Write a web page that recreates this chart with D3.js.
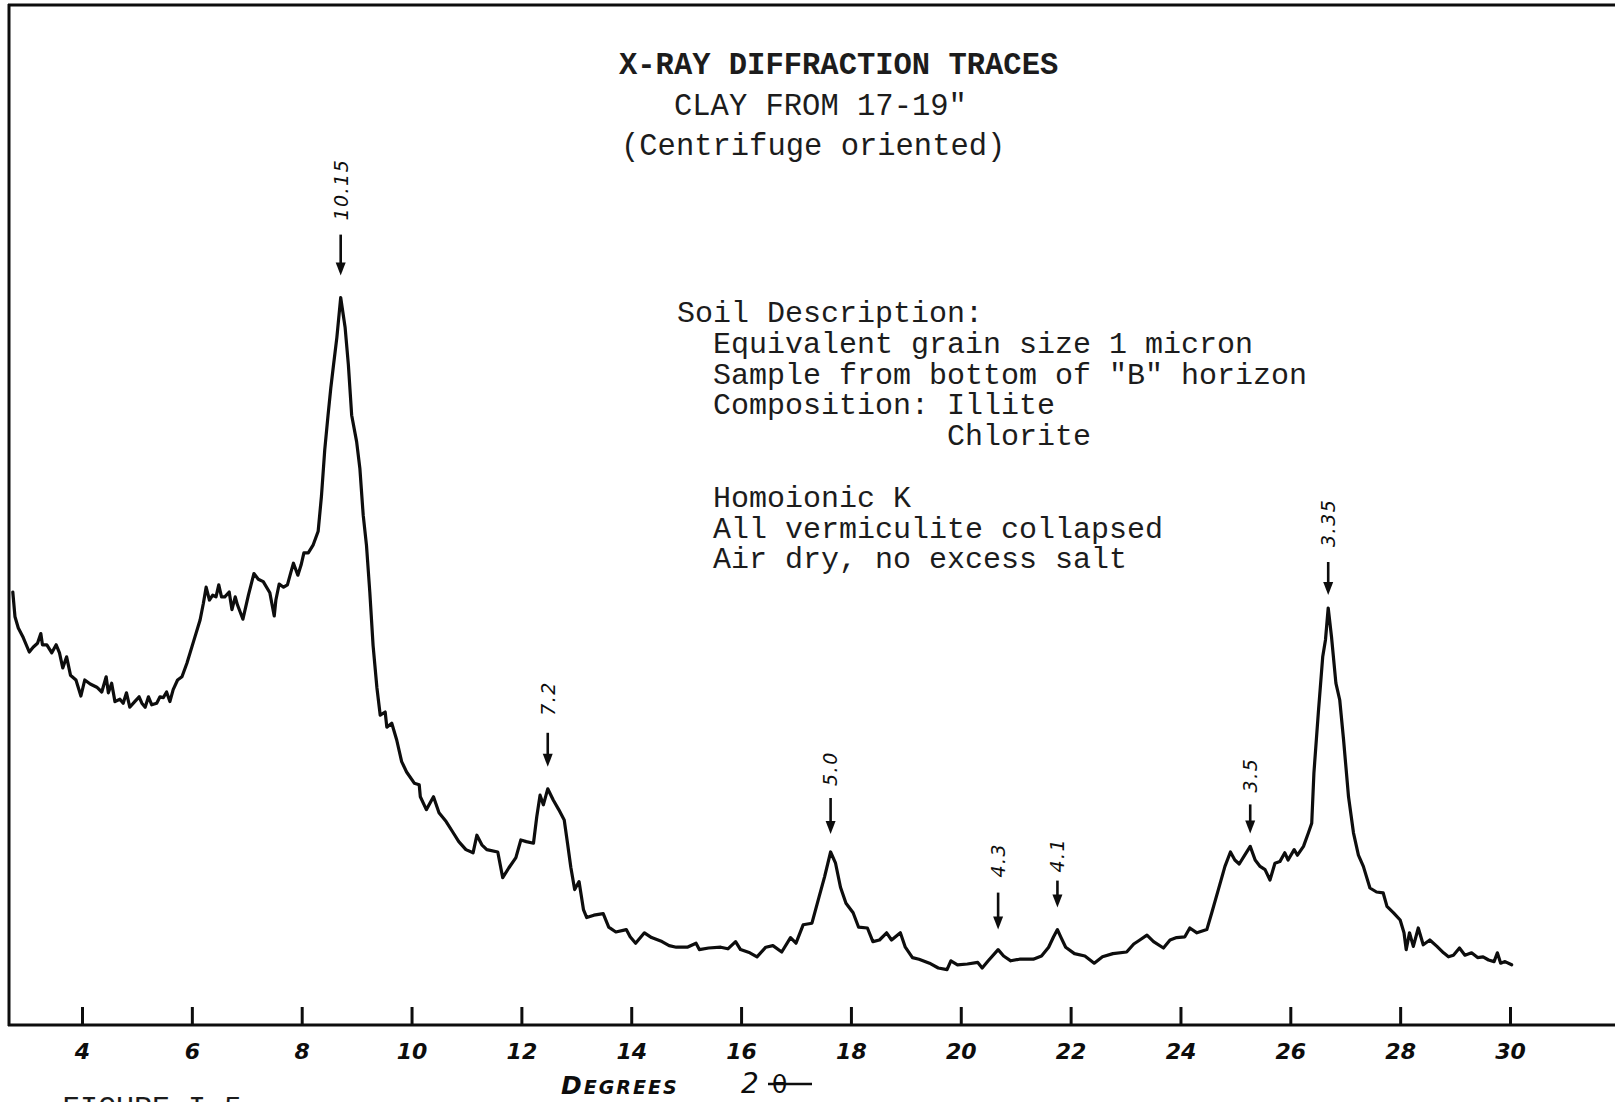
<!DOCTYPE html>
<html>
<head>
<meta charset="utf-8">
<script src="https://cdn.jsdelivr.net/npm/d3@7"></script>
<style>
  html, body { margin: 0; padding: 0; background: #fff; }
  svg { display: block; }
</style>
</head>
<body>
<svg id="chart" width="1615" height="1102"></svg>
<script>
// Diffractometer trace: angle 2θ (degrees) of each recorded point
const twoTheta = [
  2.74, 2.78, 2.84, 2.93, 3.04, 3.11, 3.19, 3.25, 3.28, 3.36, 3.45, 3.53, 3.59, 3.65, 3.72, 3.79,
  3.89, 3.98, 4.05, 4.15, 4.27, 4.36, 4.44, 4.48, 4.54, 4.60, 4.69, 4.75, 4.81, 4.87, 4.96, 5.04,
  5.09, 5.15, 5.21, 5.27, 5.36, 5.42, 5.48, 5.54, 5.60, 5.66, 5.74, 5.82, 5.91, 6.03, 6.15, 6.21,
  6.26, 6.32, 6.38, 6.44, 6.49, 6.54, 6.60, 6.68, 6.73, 6.79, 6.83, 6.93, 7.03, 7.13, 7.21, 7.30,
  7.42, 7.50, 7.53, 7.59, 7.67, 7.74, 7.80, 7.85, 7.93, 7.99, 8.04, 8.12, 8.21,
  8.30, 8.36, 8.42, 8.48, 8.53, 8.58, 8.64, 8.71, 8.79, 8.85, 8.91, 9.00, 9.06, 9.12, 9.18, 9.24,
  9.30, 9.37, 9.43, 9.52, 9.55, 9.64, 9.73,
  9.82, 9.91, 10.05, 10.14, 10.16, 10.27, 10.40, 10.50, 10.63, 10.75, 10.86, 10.99, 11.12, 11.19,
  11.28, 11.37, 11.57, 11.66, 11.77, 11.90, 11.99, 12.09, 12.22, 12.28, 12.34, 12.40, 12.48, 12.58,
  12.68, 12.78, 12.84, 12.90, 12.97, 13.05, 13.13, 13.19, 13.32, 13.49, 13.59, 13.72, 13.91, 13.98,
  14.08, 14.24, 14.37, 14.56, 14.69, 14.82, 15.02, 15.18, 15.24, 15.41, 15.63, 15.76, 15.90, 15.99,
  16.16, 16.29, 16.45, 16.58, 16.74, 16.90, 17.00, 17.13, 17.29, 17.42, 17.52, 17.63, 17.72, 17.81,
  17.91, 18.04, 18.14, 18.30, 18.40, 18.52, 18.65, 18.74, 18.90, 18.99, 19.12, 19.24, 19.43, 19.59,
  19.75, 19.82, 19.94, 20.12, 20.31, 20.39, 20.50, 20.68, 20.78, 20.91, 21.07, 21.32, 21.47, 21.60,
  21.69, 21.76, 21.82, 21.91, 22.07, 22.26, 22.43, 22.58, 22.77, 23.02, 23.15, 23.26, 23.39, 23.51,
  23.69, 23.81, 23.93, 24.08, 24.17, 24.30, 24.48, 24.57, 24.69, 24.81, 24.91, 24.99, 25.07, 25.17,
  25.27, 25.36, 25.45, 25.54, 25.63, 25.72, 25.81, 25.90, 25.96, 26.07, 26.13, 26.24, 26.33, 26.39,
  26.43, 26.51, 26.59, 26.64, 26.69, 26.75, 26.83, 26.90, 26.97, 27.06, 27.15, 27.24, 27.33, 27.45,
  27.57, 27.69, 27.76, 27.88, 28.00, 28.07, 28.11, 28.17, 28.24, 28.33, 28.42, 28.54, 28.67, 28.79,
  28.88, 28.97, 29.08, 29.18, 29.30, 29.41, 29.51, 29.61, 29.71, 29.77, 29.83, 29.91, 30.03
];

// Recorder pen deflection (relative intensity) at each point
const intensity = [
  54.0, 50.9, 49.5, 48.3, 46.5, 47.1, 47.6, 48.8, 47.4, 47.4, 46.4, 47.4, 46.4, 44.5, 45.9, 43.6,
  43.0, 41.0, 43.0, 42.5, 42.1, 41.5, 43.4, 41.4, 42.6, 40.3, 40.6, 40.1, 41.4, 39.6, 40.3, 40.9,
  40.1, 39.6, 40.9, 39.9, 40.1, 40.9, 40.8, 41.5, 40.3, 41.8, 43.0, 43.4, 45.1, 47.8, 50.5, 52.6,
  54.6, 53.0, 53.6, 53.4, 54.9, 53.4, 53.4, 54.0, 51.8, 53.4, 52.4, 50.6, 53.6, 56.3, 55.6, 55.3,
  53.9, 51.0, 53.0, 55.0, 54.6, 54.9, 56.4, 57.6, 56.1, 57.4, 58.9, 58.9, 59.9,
  61.6, 66.0, 71.8, 76.1, 79.5, 82.4, 85.8, 90.8, 87.1, 82.4, 76.1, 72.8, 69.4, 63.6, 59.8, 54.0,
  47.3, 42.0, 38.6, 39.0, 37.1, 37.6, 35.5,
  32.8, 31.5, 30.1, 29.9, 28.4, 26.8, 28.4, 26.4, 25.3, 24.0, 22.8, 21.8, 21.4, 23.6,
  22.4, 21.8, 21.5, 18.3, 19.5, 20.8, 23.0, 22.8, 22.6, 25.9, 28.6, 27.4, 29.4, 28.0,
  26.8, 25.5, 22.6, 19.6, 16.8, 17.8, 14.3, 13.3, 13.6, 13.8, 12.1, 11.5, 11.8, 10.9,
  10.1, 11.4, 10.8, 10.3, 9.8, 9.6, 9.6, 10.1, 9.3, 9.5, 9.6, 9.4, 10.3, 9.3,
  8.9, 8.4, 9.6, 9.8, 9.0, 10.8, 10.1, 12.4, 12.6, 15.9, 18.4, 21.5, 20.1, 17.1,
  15.1, 13.9, 12.1, 12.0, 10.3, 10.5, 11.4, 10.5, 11.4, 9.6, 8.3, 8.1, 7.6, 7.0,
  6.8, 7.9, 7.4, 7.5, 7.7, 7.0, 7.9, 9.3, 8.5, 7.9, 8.1, 8.1, 8.5, 9.6,
  10.9, 11.8, 10.9, 9.6, 8.8, 8.5, 7.6, 8.4, 8.8, 9.0, 10.0, 10.5, 11.1, 10.3,
  9.5, 10.5, 10.8, 10.9, 12.0, 11.4, 11.8, 13.9, 16.8, 19.7, 21.5, 20.5, 20.0, 21.1,
  22.2, 20.5, 19.7, 19.3, 18.0, 20.1, 20.3, 21.4, 20.5, 21.8, 21.1, 22.2, 23.9, 25.1,
  31.4, 38.9, 45.9, 48.0, 52.0, 48.4, 42.6, 40.5, 35.5, 28.4, 23.9, 21.1, 19.7, 17.0,
  16.5, 16.4, 14.7, 13.9, 13.0, 11.4, 9.3, 11.4, 9.7, 12.0, 9.9, 10.5, 9.7, 8.9,
  8.4, 8.6, 9.5, 8.6, 8.9, 8.3, 8.4, 8.0, 7.8, 8.9, 7.6, 7.8, 7.4
];

// Marked reflections: d-spacing labels (Å) and their 2θ positions
const peakLabels = ["10.15", "7.2", "5.0", "4.3", "4.1", "3.5", "3.35"];
const peakAngles = [8.71, 12.48, 17.63, 20.68, 21.76, 25.27, 26.69];

// Axis ticks (degrees 2θ)
const tickValues = [4, 6, 8, 10, 12, 14, 16, 18, 20, 22, 24, 26, 28, 30];

const titleLines = ["X-RAY DIFFRACTION TRACES", "CLAY FROM 17-19\"", "(Centrifuge oriented)"];
const descriptionLines = [
  "Soil Description:",
  "  Equivalent grain size 1 micron",
  "  Sample from bottom of \"B\" horizon",
  "  Composition: Illite",
  "               Chlorite",
  "",
  "  Homoionic K",
  "  All vermiculite collapsed",
  "  Air dry, no excess salt"
];

// ---- layout ----
const W = 1615, H = 1102;
const baseY = 1025;
const svg = d3.select("#chart");

const x = d3.scaleLinear().domain([4, 30]).range([82, 1510]);
const y = d3.scaleLinear().domain([0, 100]).range([1024, 224]);

const ink = "#0d0d0d";
const typeInk = "#1c1c1c";

// frame: top rule, left rule, base line
const frame = svg.append("g").attr("stroke", ink).attr("stroke-width", 3).attr("fill", "none");
frame.append("line").attr("x1", 8).attr("x2", W).attr("y1", 5).attr("y2", 5);
frame.append("line").attr("x1", 9).attr("x2", 9).attr("y1", 4).attr("y2", baseY + 1);
frame.append("line").attr("x1", 8).attr("x2", W).attr("y1", baseY).attr("y2", baseY);

// axis ticks and hand-lettered numbers
const axis = d3.axisBottom(x).tickValues(tickValues).tickSize(-18).tickPadding(0).tickFormat(d3.format("d"));
const gAxis = svg.append("g").attr("transform", `translate(0,${baseY})`).call(axis);
gAxis.select(".domain").remove();
gAxis.selectAll(".tick line").attr("stroke", ink).attr("stroke-width", 3);
gAxis.selectAll(".tick text")
  .attr("y", 34).attr("dy", 0)
  .attr("fill", ink)
  .style("font-family", "'DejaVu Sans', sans-serif")
  .style("font-size", "22px")
  .style("font-weight", "bold")
  .style("font-style", "italic");

// axis title
const xt = svg.append("text")
  .attr("x", 561).attr("y", 1094)
  .attr("fill", ink)
  .style("font-family", "'DejaVu Sans', sans-serif")
  .style("font-weight", "bold")
  .style("font-style", "italic")
  .style("letter-spacing", "2px");
xt.append("tspan").style("font-size", "25px").text("D");
xt.append("tspan").style("font-size", "19px").text("EGREES");
svg.append("text")
  .attr("x", 741).attr("y", 1093)
  .attr("fill", ink)
  .style("font-family", "'DejaVu Sans', sans-serif")
  .style("font-style", "italic")
  .style("font-size", "28px")
  .text("2");
svg.append("text")
  .attr("x", 772).attr("y", 1093)
  .attr("fill", ink)
  .style("font-family", "'DejaVu Sans', sans-serif")
  .style("font-size", "25px")
  .text("θ");
svg.append("line")
  .attr("x1", 768).attr("x2", 812).attr("y1", 1084).attr("y2", 1084)
  .attr("stroke", ink).attr("stroke-width", 2.5);

// figure caption at the foot of the page
svg.append("text")
  .attr("x", 62).attr("y", 1117)
  .attr("fill", typeInk)
  .style("font-family", "'Liberation Mono', monospace")
  .style("font-size", "30px")
  .text("FIGURE I-5");

// trace
const points = d3.zip(twoTheta, intensity);
const line = d3.line().x(d => x(d[0])).y(d => y(d[1])).curve(d3.curveLinear);
svg.append("path")
  .datum(points)
  .attr("d", line)
  .attr("fill", "none")
  .attr("stroke", ink)
  .attr("stroke-width", 3.2)
  .attr("stroke-linejoin", "round")
  .attr("stroke-linecap", "round");

// peak arrows with rotated d-spacing labels
const arrowGap = [22, 22, 18, 20, 22, 13, 13];   // space between arrow tip and peak
const arrowLen = [41, 34, 36, 37, 27, 29, 33];   // arrow length
const labelGap = [14, 17, 12, 15, 8, 12, 15];    // space between arrow tail and label

function peakTop(angle) {
  let best = 0;
  points.forEach(([a, v]) => { if (Math.abs(a - angle) < 0.08 && v > best) best = v; });
  return y(best);
}

const ann = svg.append("g");
peakLabels.forEach((lab, i) => {
  const px = x(peakAngles[i]);
  const tip = peakTop(peakAngles[i]) - arrowGap[i];
  const tail = tip - arrowLen[i];
  ann.append("line")
    .attr("x1", px).attr("x2", px).attr("y1", tail).attr("y2", tip - 8)
    .attr("stroke", ink).attr("stroke-width", 2.6);
  ann.append("path")
    .attr("d", `M${px - 5},${tip - 13}L${px + 5},${tip - 13}L${px},${tip}Z`)
    .attr("fill", ink);
  const ly = tail - labelGap[i];
  ann.append("text")
    .attr("transform", `translate(${px},${ly}) rotate(-90)`)
    .attr("dy", "0.36em")
    .attr("fill", ink)
    .style("font-family", "'DejaVu Sans', sans-serif")
    .style("font-style", "italic")
    .style("font-size", "19px")
    .style("letter-spacing", "1.5px")
    .text(lab);
});

// typed title block
const mono = "'Liberation Mono', 'DejaVu Sans Mono', monospace";
const titleX = [619, 674, 621];
const titleY = [74, 115, 155];
titleLines.forEach((t, i) => {
  svg.append("text")
    .attr("x", titleX[i]).attr("y", titleY[i])
    .attr("fill", typeInk)
    .style("font-family", mono)
    .style("font-size", "30.5px")
    .style("font-weight", i === 0 ? "bold" : "normal")
    .style("white-space", "pre")
    .text(t);
});

// typed soil description
descriptionLines.forEach((t, i) => {
  if (!t) return;
  svg.append("text")
    .attr("x", 677).attr("y", 322 + i * 30.8)
    .attr("fill", typeInk)
    .attr("xml:space", "preserve")
    .style("font-family", mono)
    .style("font-size", "30px")
    .style("white-space", "pre")
    .text(t);
});
</script>
</body>
</html>
